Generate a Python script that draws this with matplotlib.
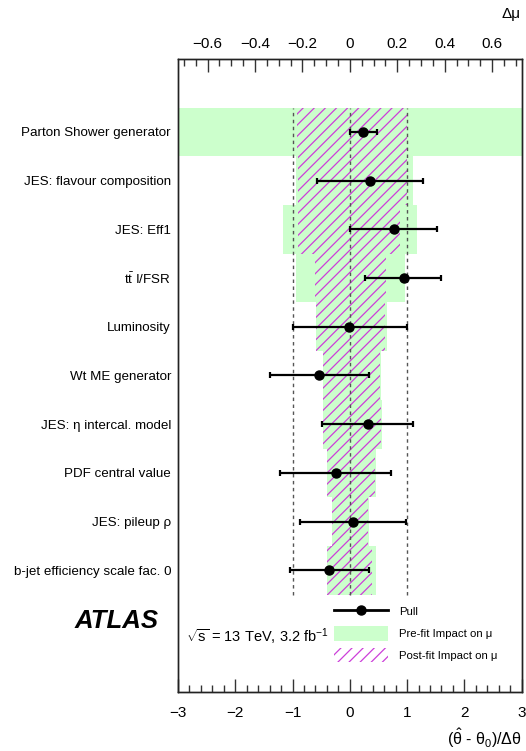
import matplotlib
matplotlib.use("Agg")
import matplotlib.pyplot as plt
from matplotlib.lines import Line2D
from matplotlib.patches import Patch
from matplotlib.ticker import MultipleLocator, FuncFormatter

plt.rcParams["font.family"] = ["Liberation Sans", "DejaVu Sans"]
plt.rcParams["mathtext.fontset"] = "custom"
plt.rcParams["mathtext.rm"] = "Liberation Sans"
plt.rcParams["mathtext.it"] = "Liberation Sans:italic"
plt.rcParams["hatch.linewidth"] = 0.9

# nuisance parameters, ranked top to bottom
labels = [
    "Parton Shower generator",
    "JES: flavour composition",
    "JES: Eff1",
    r"$\mathrm{t\bar{t}}$ I/FSR",
    "Luminosity",
    "Wt ME generator",
    "JES: η intercal. model",
    "PDF central value",
    "JES: pileup ρ",
    "b-jet efficiency scale fac. 0",
]

# pulls (theta_hat - theta_0)/dtheta and their errors
pull = [0.23, 0.36, 0.77, 0.94, -0.01, -0.54, 0.31, -0.245, 0.05, -0.36]
pull_err_lo = [0.23, 0.93, 0.765, 0.68, 0.99, 0.86, 0.80, 0.975, 0.925, 0.69]
pull_err_hi = [0.24, 0.92, 0.76, 0.66, 1.00, 0.87, 0.80, 0.965, 0.935, 0.69]

# impact on mu (pre-fit and post-fit), low / high edge
prefit_lo = [-0.80, -0.229, -0.284, -0.229, -0.144, -0.115, -0.115, -0.098, -0.077, -0.098]
prefit_hi = [0.80, 0.268, 0.284, 0.232, 0.155, 0.131, 0.136, 0.110, 0.080, 0.109]
postfit_lo = [-0.225, -0.22, -0.22, -0.148, -0.142, -0.113, -0.113, -0.096, -0.075, -0.096]
postfit_hi = [0.242, 0.24, 0.211, 0.152, 0.150, 0.128, 0.132, 0.108, 0.078, 0.092]

green = "#ccffcc"
violet = "#cc3fd9"

n = len(labels)
ys = [n - 1 - i for i in range(n)]

fig = plt.figure(figsize=(5.26, 7.51), dpi=100)
ax = fig.add_axes([0.3384, 0.0786, 0.6534, 0.8429])
ax2 = ax.twiny()
ax.set_zorder(2)
ax2.set_zorder(1)
ax.patch.set_visible(False)

# impact bands on the top (delta mu) axis
ax2.barh(ys, [h - l for l, h in zip(prefit_lo, prefit_hi)], left=prefit_lo,
         height=1.0, color=green, linewidth=0)
ax2.barh(ys, [h - l for l, h in zip(postfit_lo, postfit_hi)], left=postfit_lo,
         height=1.0, fill=False, hatch="///", edgecolor=violet, linewidth=0)
ax2.set_xlim(-0.725, 0.725)

# reference lines and pulls on the bottom axis
ax.vlines([-1, 0, 1], -0.5, n - 0.5, colors="#555555", linestyles=(0, (2.5, 2.5)),
          linewidth=1.0)
ax.errorbar(pull, ys, xerr=[pull_err_lo, pull_err_hi], fmt="o", color="black",
            markersize=6.5, elinewidth=1.6, capsize=2.5, capthick=1.6)
ax.set_xlim(-3, 3)
ax.set_ylim(-2.5, 10.5)

ax.set_yticks(ys)
ax.set_yticklabels(labels, fontsize=9.6)
ax.tick_params(axis="y", length=0, pad=5)

ax.xaxis.set_major_locator(MultipleLocator(1))
ax.xaxis.set_minor_locator(MultipleLocator(0.2))
ax.tick_params(axis="x", which="both", direction="in", top=False, labelsize=11,
               pad=10, color="#333333")
ax.tick_params(axis="x", which="major", length=9.5, width=1)
ax.tick_params(axis="x", which="minor", length=5, width=1)

ax2.xaxis.set_major_locator(MultipleLocator(0.2))
ax2.xaxis.set_minor_locator(MultipleLocator(0.05))
ax2.xaxis.set_major_formatter(FuncFormatter(
    lambda v, _: "0" if abs(v) < 1e-9 else f"{v:.1f}".replace("-", "\u2212")))
ax2.tick_params(axis="x", which="both", direction="in", bottom=False, labelsize=11,
                pad=6, color="#333333")
ax2.tick_params(axis="x", which="major", length=9.5, width=1)
ax2.tick_params(axis="x", which="minor", length=5, width=1)

for a in (ax, ax2):
    for s in a.spines.values():
        s.set_color("#222222")
        s.set_linewidth(1.0)

fig.text(521 / 526, 1 - 14 / 751, "Δμ", ha="right", va="center", fontsize=11)
fig.text(521.7 / 526, 1 - 738 / 751,
         r"$(\hat{\mathrm{\theta}}$ - $\mathrm{\theta}_0)/\Delta\mathrm{\theta}$",
         ha="right", va="center", fontsize=11.5)

fig.text(159 / 526, 1 - 621 / 751, "ATLAS", ha="right", va="center",
         fontsize=18.5, fontweight="bold", fontstyle="italic")
fig.text(186 / 526, 1 - 637 / 751, r"$\sqrt{\mathrm{s}}$ = 13 TeV, 3.2 fb$^{-1}$",
         ha="left", va="center", fontsize=10.5)

handles = [
    Line2D([], [], color="black", marker="o", markersize=6.5, linewidth=2),
    Patch(facecolor=green, linewidth=0),
    Patch(fill=False, hatch="///", edgecolor=violet, linewidth=0),
]
fig.legend(handles, ["Pull", "Pre-fit Impact on μ", "Post-fit Impact on μ"],
           loc="upper left", bbox_to_anchor=(334 / 526, 1 - 604 / 751),
           frameon=False, fontsize=8.2, handlelength=4.75, handleheight=1.6,
           labelspacing=0.64, handletextpad=1.0, borderpad=0, borderaxespad=0,
           numpoints=1)

fig.savefig("out.png", dpi=100)
